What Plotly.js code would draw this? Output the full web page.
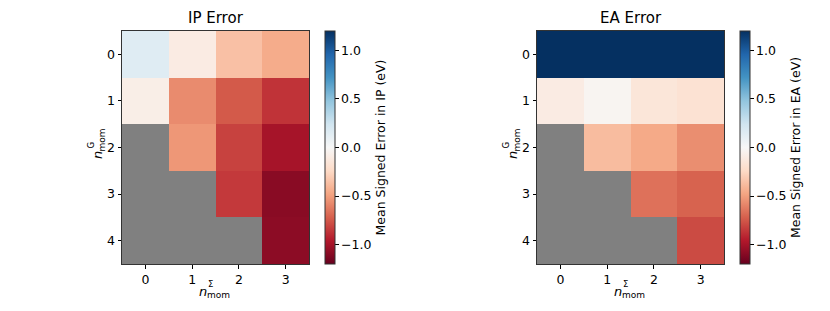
<!DOCTYPE html>
<html><head><meta charset="utf-8">
<script src="https://cdn.plot.ly/plotly-3.0.1.min.js"></script>
<style>html,body{margin:0;padding:0;background:#fff;}#c{width:830px;height:311px;}</style>
</head><body><div id="c"></div>
<script>
// Data
const nSigma = [0, 1, 2, 3];          // x categories (n_mom^Σ)
const nG = [0, 1, 2, 3, 4];           // y categories (n_mom^G)
const ipError = [
  [0.15, -0.10, -0.36, -0.45],
  [-0.08, -0.57, -0.74, -0.87],
  [null, -0.53, -0.82, -1.00],
  [null, null, -0.85, -1.09],
  [null, null, null, -1.08]
];
const eaError = [
  [1.35, 1.30, 1.30, 1.30],
  [-0.10, -0.03, -0.15, -0.18],
  [null, -0.38, -0.46, -0.56],
  [null, null, -0.66, -0.71],
  [null, null, null, -0.79]
];
const titles = ["IP Error", "EA Error"];
const cbTitles = ["Mean Signed Error in IP (eV)", "Mean Signed Error in EA (eV)"];
const cbTickVals = [-1, -0.5, 0, 0.5, 1];
const cbTickText = ["\u22121.0", "\u22120.5", "0.0", "0.5", "1.0"];

const W = 830, H = 311;
const RdBu = [
  [0.0, 'rgb(103,0,31)'], [0.1, 'rgb(178,24,43)'], [0.2, 'rgb(214,96,77)'],
  [0.3, 'rgb(244,165,130)'], [0.4, 'rgb(253,219,199)'], [0.5, 'rgb(247,247,247)'],
  [0.6, 'rgb(209,229,240)'], [0.7, 'rgb(146,197,222)'], [0.8, 'rgb(67,147,195)'],
  [0.9, 'rgb(33,102,172)'], [1.0, 'rgb(5,48,97)']
];
const font = 'DejaVu Sans, sans-serif';
const FS = 12.5;
const plotTop = 31, plotBot = 264;
const lefts = [122, 537], rights = [309, 724];
const cbLefts = [325, 740];
const px = v => v / W, py = v => 1 - v / H;

const data = [ipError, eaError].map((z, i) => ({
  type: 'heatmap', x: nSigma, y: nG, z: z,
  xaxis: i ? 'x2' : 'x', yaxis: i ? 'y2' : 'y',
  coloraxis: i ? 'coloraxis2' : 'coloraxis',
  hoverongaps: false, xgap: 0, ygap: 0
}));

function axis(i, isX) {
  const base = {
    showgrid: false, zeroline: false, showline: true, mirror: true,
    linecolor: '#333', linewidth: 1, ticks: 'outside', ticklen: 3.5, tickcolor: '#000',
    tickfont: {family: font, size: FS, color: '#000'}, tickmode: 'array'
  };
  if (isX) {
    return Object.assign(base, {domain: [px(lefts[i]), px(rights[i])], range: [-0.5, 3.5],
      tickvals: nSigma, ticktext: nSigma.map(String), anchor: i ? 'y2' : 'y'});
  }
  return Object.assign(base, {domain: [py(plotBot), py(plotTop)], range: [4.5, -0.5],
    tickvals: nG, ticktext: nG.map(String), anchor: i ? 'x2' : 'x'});
}

function cax(i) {
  return {
    cmin: -1.2, cmax: 1.2, colorscale: RdBu,
    colorbar: {
      x: px(cbLefts[i]), xanchor: 'left', xref: 'paper',
      y: py(plotBot), yanchor: 'bottom', yref: 'paper',
      len: (plotBot - plotTop) / H, lenmode: 'fraction',
      thickness: 10, thicknessmode: 'pixels',
      outlinewidth: 1, outlinecolor: '#333',
      ticks: 'outside', ticklen: 3.5, tickcolor: '#000',
      tickvals: cbTickVals, ticktext: cbTickText,
      tickfont: {family: font, size: FS, color: '#000'},
      title: {text: cbTitles[i], side: 'right', font: {family: font, size: FS, color: '#000'}},
      xpad: 0, ypad: 0
    }
  };
}

function A(text, x, y, size, angle) {
  return {text: text, x: px(x), y: py(y), xref: 'paper', yref: 'paper',
    xanchor: 'center', yanchor: 'middle', textangle: angle || 0,
    showarrow: false, font: {family: font, size: size, color: '#000'}};
}

const ann = [];
for (let i = 0; i < 2; i++) {
  const L = lefts[i], cx = (lefts[i] + rights[i]) / 2;
  ann.push(A(titles[i], cx, 18, 15));
  // x label n^Σ_mom
  ann.push(A('<i>n</i>', L + 81, 291, 13));
  ann.push(A('Σ', L + 88.5, 283.5, 8.5));
  ann.push(A('mom', L + 96.5, 295, 9));
  // y label n^G_mom
  ann.push(A('<i>n</i>', L - 25, 155, 13, -90));
  ann.push(A('G', L - 32, 145.5, 8.5, -90));
  ann.push(A('mom', L - 21, 140.5, 9, -90));
}

const layout = {
  width: W, height: H, margin: {l: 0, r: 0, t: 0, b: 0},
  paper_bgcolor: '#fff', plot_bgcolor: 'rgb(128,128,128)',
  font: {family: font, color: '#000'},
  xaxis: axis(0, true), yaxis: axis(0, false),
  xaxis2: axis(1, true), yaxis2: axis(1, false),
  coloraxis: cax(0), coloraxis2: cax(1),
  annotations: ann, showlegend: false
};
Plotly.newPlot('c', data, layout, {displayModeBar: false, staticPlot: true});
</script></body></html>
